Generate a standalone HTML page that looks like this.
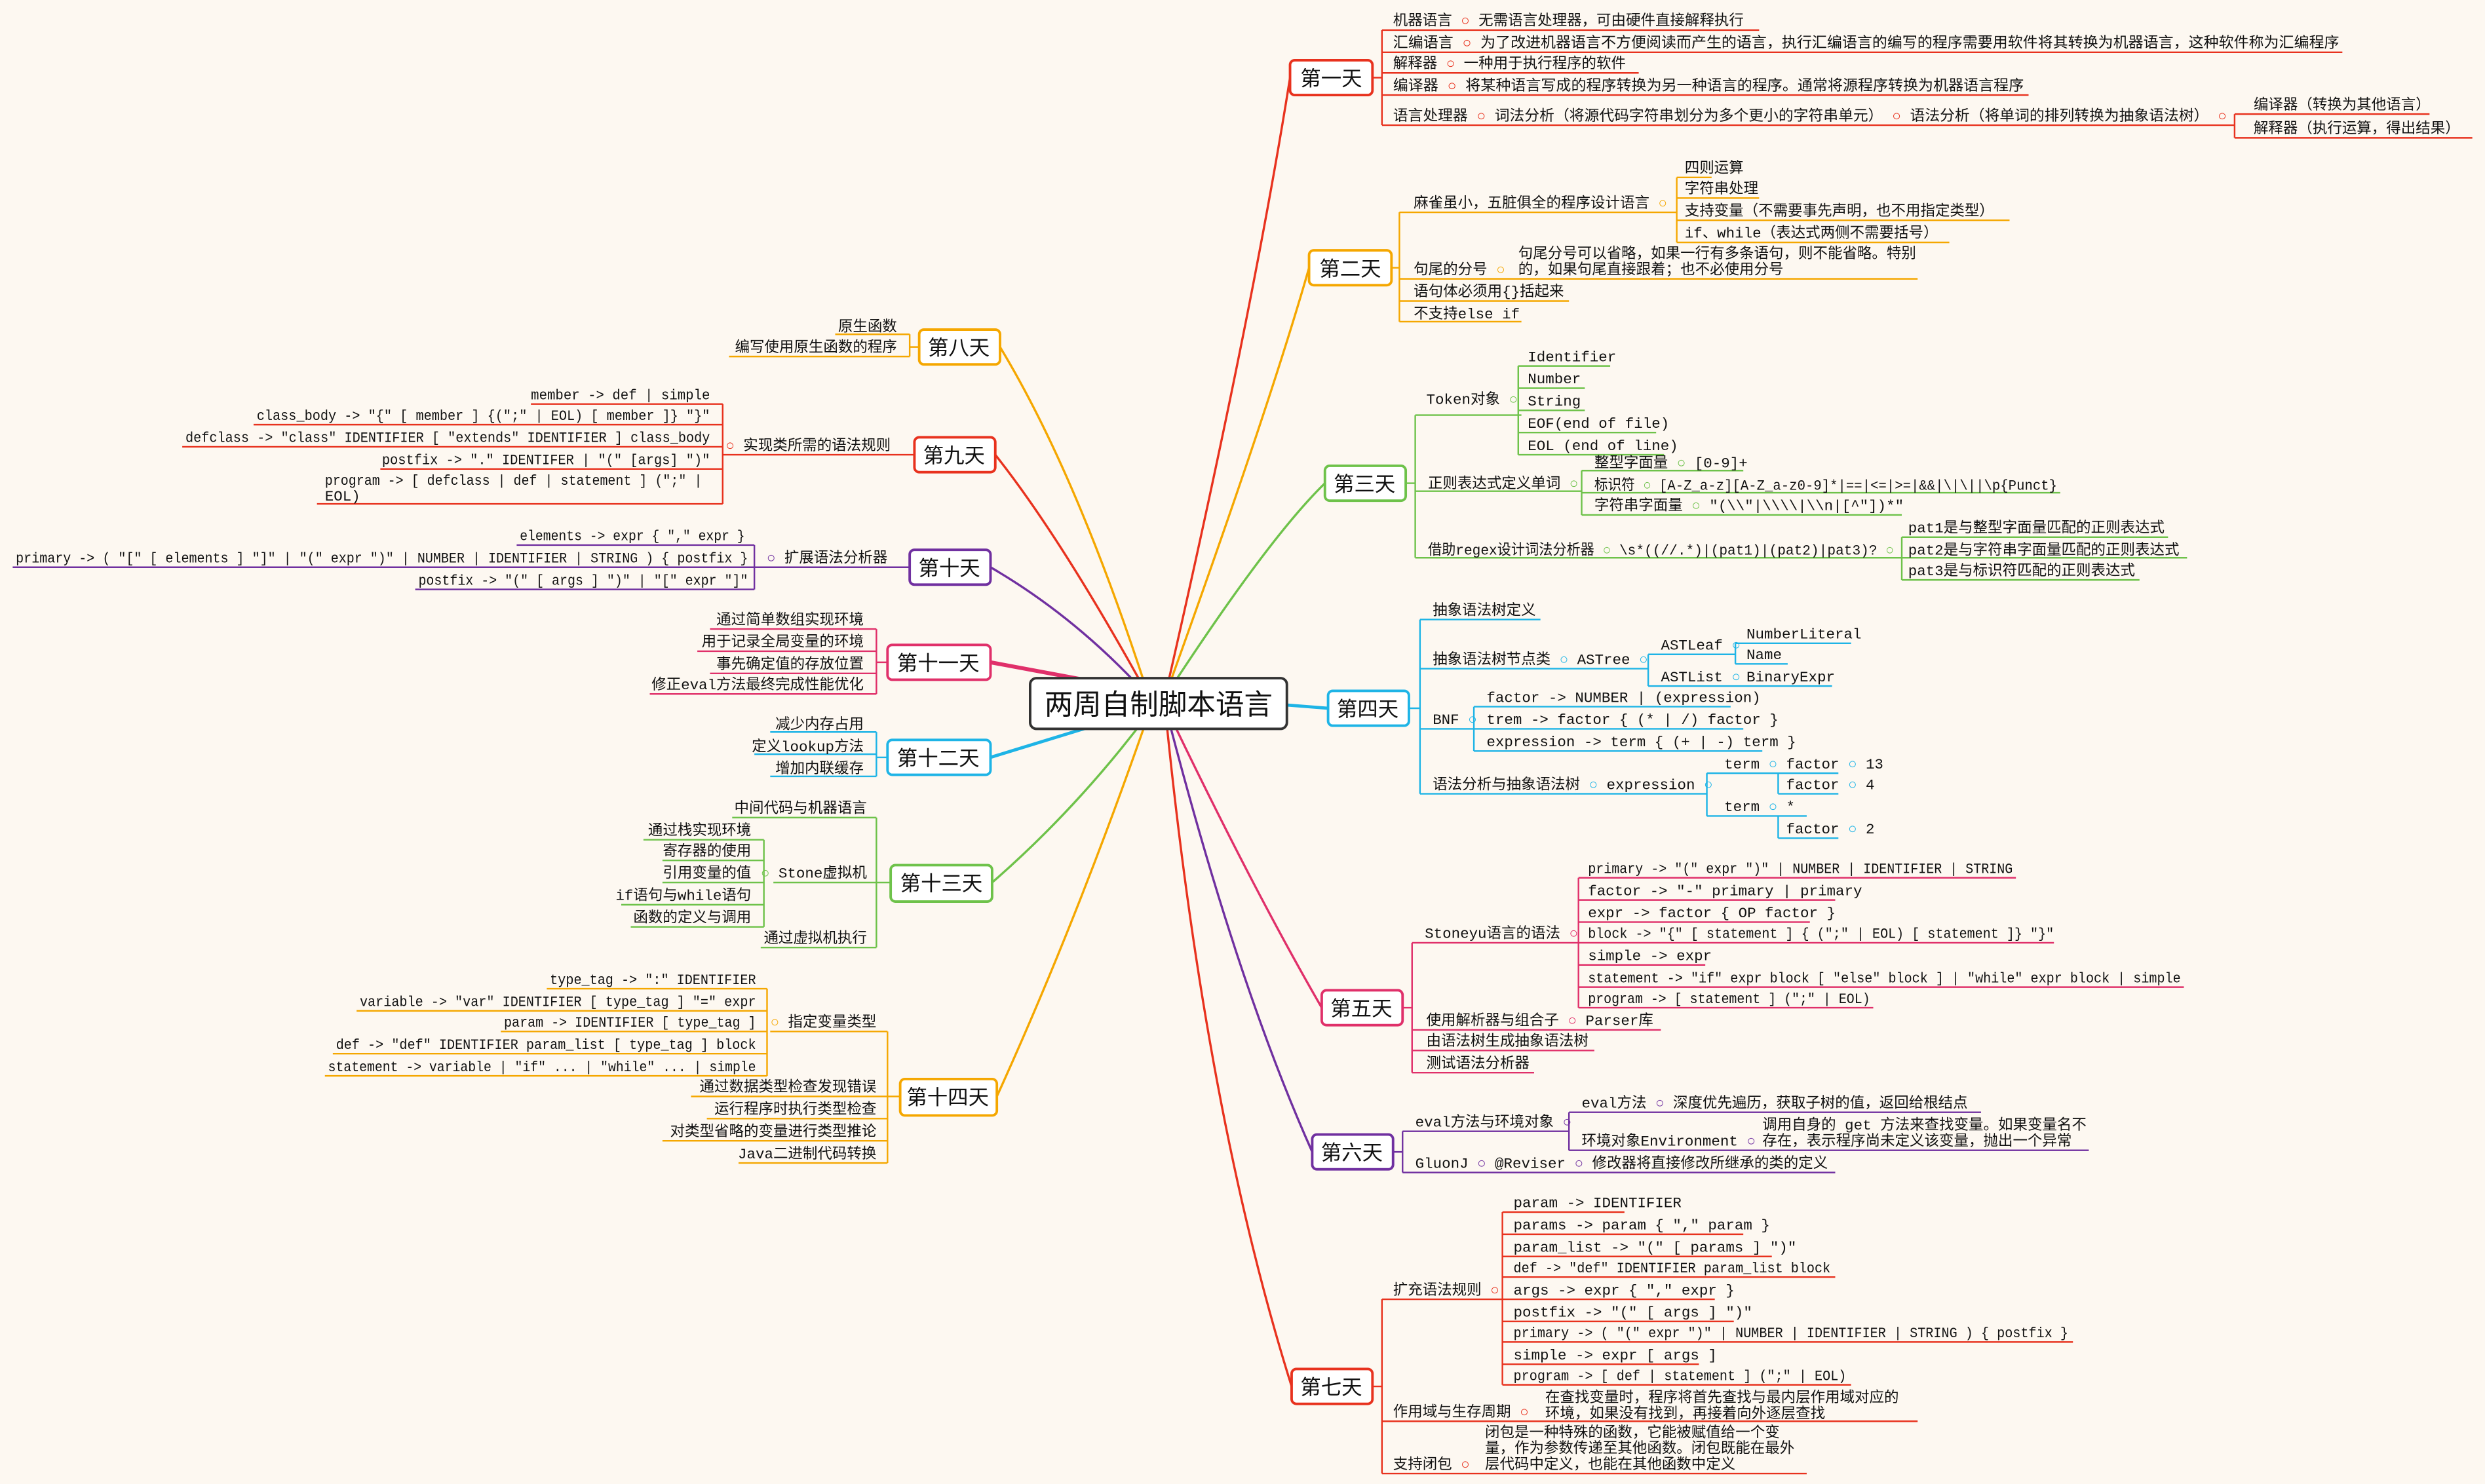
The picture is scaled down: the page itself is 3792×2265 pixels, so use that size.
<!DOCTYPE html>
<html><head><meta charset="utf-8"><style>
html,body{margin:0;padding:0;background:#fdf8f1;}
svg{display:block}
text{font-family:"Liberation Mono","Noto Sans CJK SC",monospace;font-size:9.3px;fill:#111;}
.tp{font-family:"Liberation Sans","Noto Sans CJK SC",sans-serif;font-size:13px;text-anchor:middle}
.e{text-anchor:end}
</style></head><body>
<svg width="3792" height="2265" viewBox="0 0 1568 936.6" preserveAspectRatio="none" xmlns="http://www.w3.org/2000/svg">
<rect width="1568" height="937" fill="#fdf8f1"/>
<g fill="none" stroke-width="1.4">
<!-- center connectors -->
<path d="M735 440 Q790 200 814 49" stroke="#e8321e"/>
<path d="M735 440 Q800 260 826 169" stroke="#f5a700"/>
<path d="M735 440 Q800 340 836 305" stroke="#6ec24a"/>
<path d="M800 444 L838 447" stroke="#1eb4e6" stroke-width="2"/>
<path d="M735 445 Q790 560 834 636" stroke="#e0306a"/>
<path d="M735 445 Q780 620 828 727" stroke="#7030a0"/>
<path d="M735 445 Q760 700 815 875" stroke="#e8321e"/>
<path d="M725 440 Q680 300 631 219" stroke="#f5a700"/>
<path d="M725 440 Q670 340 628 287" stroke="#e8321e"/>
<path d="M725 440 Q680 390 625 358" stroke="#7030a0"/>
<path d="M700 432 L625 418" stroke="#e0306a" stroke-width="2.5"/>
<path d="M700 455 L625 478" stroke="#1eb4e6" stroke-width="2"/>
<path d="M725 450 Q680 510 626 557" stroke="#6ec24a"/>
<path d="M725 450 Q680 580 629 692" stroke="#f5a700"/>
</g>
<g fill="none" stroke-width="1">
<!-- day1 red -->
<g stroke="#e8321e">
<path d="M866 49 H872 M872 19 V79"/>
<path d="M872 19 H1110 M872 33 H1478 M872 46 H1034 M872 60 H1280 M872 79 H1410 M1410 79 V72 M1410 72 V87 M1410 72 H1533 M1410 87 H1560"/>
</g>
<!-- day2 orange -->
<g stroke="#f5a700">
<path d="M878 169 H883 M883 134 V203"/>
<path d="M883 134 H1058 M1058 112 V153 M1058 112 H1080 M1058 125 H1110 M1058 139 H1268 M1058 153 H1230"/>
<path d="M883 176 H1210 M883 190 H990 M883 203 H960"/>
</g>
<!-- day3 green -->
<g stroke="#6ec24a">
<path d="M887 305 H893 M893 262 V352"/>
<path d="M893 262 H960 M958 231 V287 M958 231 H1016 M958 245 H1000 M958 259 H1000 M958 273 H1045 M958 287 H1050"/>
<path d="M893 310 H998 M998 297 V325 M998 297 H1100 M998 311 H1300 M998 325 H1200"/>
<path d="M893 352 H1200 M1200 339 V366 M1200 339 H1368 M1200 352 H1380 M1200 366 H1350"/>
</g>
<!-- day4 cyan -->
<g stroke="#1eb4e6">
<path d="M889 447 H896 M896 391 V501"/>
<path d="M896 391 H972 M896 422 H1040 M1040 413 V433 M1040 413 H1095 M1040 433 H1095 M1095 406 V419 M1095 406 H1168 M1095 419 H1128 M1095 433 H1156"/>
<path d="M896 460 H930 M930 446 V474 M930 446 H1092 M930 460 H1100 M930 474 H1112"/>
<path d="M896 501 H1077 M1077 488 V515 M1077 488 H1122 M1122 488 V501 M1122 488 H1160 M1122 501 H1160 M1077 515 H1122 M1122 515 V529 M1122 515 H1140 M1122 529 H1160"/>
</g>
<!-- day5 crimson -->
<g stroke="#e0306a">
<path d="M885 636 H891 M891 595 V677"/>
<path d="M891 595 H996 M996 554 V636 M996 554 H1272 M996 568 H1158 M996 582 H1142 M996 595 H1296 M996 609 H1076 M996 623 H1378 M996 636 H1182"/>
<path d="M891 650 H1048 M891 663 H1006 M891 677 H968"/>
</g>
<!-- day6 purple -->
<g stroke="#7030a0">
<path d="M879 727 H885 M885 714 V740"/>
<path d="M885 714 H990 M990 702 V726 M990 702 H1250 M990 726 H1318 M885 740 H1158"/>
</g>
<!-- day7 red -->
<g stroke="#e8321e">
<path d="M866 875 H872 M872 820 V930"/>
<path d="M872 820 H948 M948 765 V874 M948 765 H1025 M948 779 H1100 M948 793 H1118 M948 806 H1158 M948 820 H1082 M948 834 H1094 M948 847 H1308 M948 861 H1072 M948 874 H1168"/>
<path d="M872 897 H1210 M872 930 H1140"/>
</g>
<!-- left side -->
<g stroke="#f5a700"><path d="M580 219 H574 M574 211 V225 M574 211 H527 M574 225 H460"/></g>
<g stroke="#e8321e"><path d="M577 287 H462 M462 287 H456 M456 255 V318 M456 255 H335 M456 268 H160 M456 282 H115 M456 296 H240 M456 318 H200"/></g>
<g stroke="#7030a0"><path d="M574 358 H476 M476 344 V372 M476 344 H326 M476 358 H8 M476 372 H262"/></g>
<g stroke="#e0306a"><path d="M560 418 H553 M553 397 V438 M553 397 H448 M553 411 H440 M553 425 H448 M553 438 H410"/></g>
<g stroke="#1eb4e6"><path d="M560 478 H553 M553 462 V490 M553 462 H486 M553 476 H476 M553 490 H486"/></g>
<g stroke="#6ec24a"><path d="M562 557 H553 M553 516 V598 M553 516 H462 M553 557 H488 M482 530 V585 M482 530 H406 M482 543 H418 M482 557 H418 M482 571 H392 M482 585 H398 M553 598 H480"/></g>
<g stroke="#f5a700"><path d="M568 692 H560 M560 651 V734 M560 651 H486 M484 624 V679 M484 624 H345 M484 638 H225 M484 651 H316 M484 665 H210 M484 679 H205 M560 692 H436 M560 706 H446 M560 720 H418 M560 734 H466"/></g>
</g>
<!-- boxes -->
<g stroke-width="1.6">
<rect x="650" y="428" width="162" height="32" rx="4" fill="#fff" stroke="#333"/>
<rect x="814" y="38" width="52" height="22" rx="3" fill="#fff" stroke="#e8321e"/>
<rect x="826" y="158" width="52" height="22" rx="3" fill="#fff" stroke="#f5a700"/>
<rect x="836" y="294" width="51" height="22" rx="3" fill="#fff" stroke="#6ec24a"/>
<rect x="838" y="436" width="51" height="22" rx="3" fill="#fff" stroke="#1eb4e6"/>
<rect x="834" y="625" width="51" height="22" rx="3" fill="#fff" stroke="#e0306a"/>
<rect x="828" y="716" width="51" height="22" rx="3" fill="#fff" stroke="#7030a0"/>
<rect x="815" y="864" width="51" height="22" rx="3" fill="#fff" stroke="#e8321e"/>
<rect x="580" y="208" width="51" height="22" rx="3" fill="#fff" stroke="#f5a700"/>
<rect x="577" y="276" width="51" height="22" rx="3" fill="#fff" stroke="#e8321e"/>
<rect x="574" y="347" width="51" height="22" rx="3" fill="#fff" stroke="#7030a0"/>
<rect x="560" y="407" width="65" height="22" rx="3" fill="#fff" stroke="#e0306a"/>
<rect x="560" y="467" width="65" height="22" rx="3" fill="#fff" stroke="#1eb4e6"/>
<rect x="562" y="546" width="64" height="23" rx="3" fill="#fff" stroke="#6ec24a"/>
<rect x="568" y="681" width="61" height="23" rx="3" fill="#fff" stroke="#f5a700"/>
</g>
<text x="731" y="451" class="tp" style="font-size:18px">两周自制脚本语言</text>
<text x="840" y="54" class="tp">第一天</text>
<text x="852" y="174" class="tp">第二天</text>
<text x="861" y="310" class="tp">第三天</text>
<text x="863" y="452" class="tp">第四天</text>
<text x="859" y="641" class="tp">第五天</text>
<text x="853" y="732" class="tp">第六天</text>
<text x="840" y="880" class="tp">第七天</text>
<text x="605" y="224" class="tp">第八天</text>
<text x="602" y="292" class="tp">第九天</text>
<text x="599" y="363" class="tp">第十天</text>
<text x="592" y="423" class="tp">第十一天</text>
<text x="592" y="483" class="tp">第十二天</text>
<text x="594" y="562" class="tp">第十三天</text>
<text x="598" y="697" class="tp">第十四天</text>

<!-- day1 -->
<text x="879" y="16">机器语言 <tspan fill="#e8321e">○</tspan> 无需语言处理器，可由硬件直接解释执行</text>
<text x="879" y="30" textLength="597" lengthAdjust="spacingAndGlyphs">汇编语言 <tspan fill="#e8321e">○</tspan> 为了改进机器语言不方便阅读而产生的语言，执行汇编语言的编写的程序需要用软件将其转换为机器语言，这种软件称为汇编程序</text>
<text x="879" y="43">解释器 <tspan fill="#e8321e">○</tspan> 一种用于执行程序的软件</text>
<text x="879" y="57" textLength="398" lengthAdjust="spacingAndGlyphs">编译器 <tspan fill="#e8321e">○</tspan> 将某种语言写成的程序转换为另一种语言的程序。通常将源程序转换为机器语言程序</text>
<text x="879" y="76" textLength="526" lengthAdjust="spacingAndGlyphs">语言处理器 <tspan fill="#e8321e">○</tspan> 词法分析（将源代码字符串划分为多个更小的字符串单元） <tspan fill="#e8321e">○</tspan> 语法分析（将单词的排列转换为抽象语法树） <tspan fill="#e8321e">○</tspan></text>
<text x="1422" y="69">编译器（转换为其他语言）</text>
<text x="1422" y="84">解释器（执行运算，得出结果）</text>
<!-- day2 -->
<text x="892" y="131">麻雀虽小，五脏俱全的程序设计语言 <tspan fill="#f5a700">○</tspan></text>
<text x="1063" y="109">四则运算</text>
<text x="1063" y="122">字符串处理</text>
<text x="1063" y="136">支持变量（不需要事先声明，也不用指定类型）</text>
<text x="1063" y="150">if、while（表达式两侧不需要括号）</text>
<text x="892" y="173">句尾的分号 <tspan fill="#f5a700">○</tspan></text>
<text x="958" y="163">句尾分号可以省略，如果一行有多条语句，则不能省略。特别</text>
<text x="958" y="173">的，如果句尾直接跟着；也不必使用分号</text>
<text x="892" y="187">语句体必须用{}括起来</text>
<text x="892" y="201">不支持else if</text>
<!-- day3 -->
<text x="900" y="255">Token对象 <tspan fill="#6ec24a">○</tspan></text>
<text x="964" y="228">Identifier</text>
<text x="964" y="242">Number</text>
<text x="964" y="256">String</text>
<text x="964" y="270">EOF(end of file)</text>
<text x="964" y="284">EOL (end of line)</text>
<text x="901" y="308">正则表达式定义单词 <tspan fill="#6ec24a">○</tspan></text>
<text x="1006" y="295">整型字面量 <tspan fill="#6ec24a">○</tspan>  [0-9]+</text>
<text x="1006" y="309" textLength="292" lengthAdjust="spacingAndGlyphs">标识符 <tspan fill="#6ec24a">○</tspan>  [A-Z_a-z][A-Z_a-z0-9]*|==|&lt;=|&gt;=|&amp;&amp;|\|\||\p{Punct}</text>
<text x="1006" y="322">字符串字面量 <tspan fill="#6ec24a">○</tspan>  "(\\"|\\\\|\\n|[^"])*"</text>
<text x="901" y="350" textLength="294" lengthAdjust="spacingAndGlyphs">借助regex设计词法分析器 <tspan fill="#6ec24a">○</tspan>  \s*((//.*)|(pat1)|(pat2)|pat3)? <tspan fill="#6ec24a">○</tspan></text>
<text x="1204" y="336">pat1是与整型字面量匹配的正则表达式</text>
<text x="1204" y="350">pat2是与字符串字面量匹配的正则表达式</text>
<text x="1204" y="363">pat3是与标识符匹配的正则表达式</text>
<!-- day4 -->
<text x="904" y="388">抽象语法树定义</text>
<text x="904" y="419">抽象语法树节点类 <tspan fill="#1eb4e6">○</tspan>  ASTree <tspan fill="#1eb4e6">○</tspan></text>
<text x="1048" y="410">ASTLeaf <tspan fill="#1eb4e6">○</tspan></text>
<text x="1048" y="430">ASTList <tspan fill="#1eb4e6">○</tspan></text>
<text x="1102" y="403">NumberLiteral</text>
<text x="1102" y="416">Name</text>
<text x="1102" y="430">BinaryExpr</text>
<text x="904" y="457">BNF <tspan fill="#1eb4e6">○</tspan></text>
<text x="938" y="443">factor -&gt; NUMBER | (expression)</text>
<text x="938" y="457">trem -&gt; factor { (* | /) factor }</text>
<text x="938" y="471">expression -&gt; term { (+ | -) term }</text>
<text x="904" y="498">语法分析与抽象语法树 <tspan fill="#1eb4e6">○</tspan>  expression <tspan fill="#1eb4e6">○</tspan></text>
<text x="1088" y="485">term <tspan fill="#1eb4e6">○</tspan></text>
<text x="1088" y="512">term <tspan fill="#1eb4e6">○</tspan></text>
<text x="1127" y="485">factor <tspan fill="#1eb4e6">○</tspan>  13</text>
<text x="1127" y="498">factor <tspan fill="#1eb4e6">○</tspan>  4</text>
<text x="1127" y="512">*</text>
<text x="1127" y="526">factor <tspan fill="#1eb4e6">○</tspan>  2</text>
<!-- day5 -->
<text x="899" y="592">Stoneyu语言的语法 <tspan fill="#e0306a">○</tspan></text>
<text x="1002" y="551" textLength="268" lengthAdjust="spacingAndGlyphs">primary -&gt; "(" expr ")" | NUMBER | IDENTIFIER | STRING</text>
<text x="1002" y="565">factor -&gt; "-" primary | primary</text>
<text x="1002" y="579">expr -&gt; factor { OP factor }</text>
<text x="1002" y="592" textLength="294" lengthAdjust="spacingAndGlyphs">block -&gt; "{" [ statement ] { (";" | EOL) [ statement ]} "}"</text>
<text x="1002" y="606">simple -&gt; expr</text>
<text x="1002" y="620" textLength="374" lengthAdjust="spacingAndGlyphs">statement -&gt; "if" expr block [ "else" block ] | "while" expr block | simple</text>
<text x="1002" y="633" textLength="178" lengthAdjust="spacingAndGlyphs">program -&gt; [ statement ] (";" | EOL)</text>
<text x="900" y="647">使用解析器与组合子 <tspan fill="#e0306a">○</tspan>  Parser库</text>
<text x="900" y="660">由语法树生成抽象语法树</text>
<text x="900" y="674">测试语法分析器</text>
<!-- day6 -->
<text x="893" y="711">eval方法与环境对象 <tspan fill="#7030a0">○</tspan></text>
<text x="998" y="699">eval方法 <tspan fill="#7030a0">○</tspan>  深度优先遍历，获取子树的值，返回给根结点</text>
<text x="998" y="723">环境对象Environment <tspan fill="#7030a0">○</tspan></text>
<text x="1112" y="713">调用自身的 get 方法来查找变量。如果变量名不</text>
<text x="1112" y="723">存在，表示程序尚未定义该变量，抛出一个异常</text>
<text x="893" y="737">GluonJ <tspan fill="#7030a0">○</tspan>  @Reviser <tspan fill="#7030a0">○</tspan>  修改器将直接修改所继承的类的定义</text>
<!-- day7 -->
<text x="879" y="817">扩充语法规则 <tspan fill="#e8321e">○</tspan></text>
<text x="955" y="762">param -&gt; IDENTIFIER</text>
<text x="955" y="776">params -&gt; param { "," param }</text>
<text x="955" y="790">param_list -&gt; "(" [ params ] ")"</text>
<text x="955" y="803" textLength="200" lengthAdjust="spacingAndGlyphs">def -&gt; "def" IDENTIFIER param_list block</text>
<text x="955" y="817">args -&gt; expr { "," expr }</text>
<text x="955" y="831">postfix -&gt; "(" [ args ] ")"</text>
<text x="955" y="844" textLength="350" lengthAdjust="spacingAndGlyphs">primary -&gt; ( "(" expr ")" | NUMBER | IDENTIFIER | STRING ) { postfix }</text>
<text x="955" y="858">simple -&gt; expr [ args ]</text>
<text x="955" y="871" textLength="210" lengthAdjust="spacingAndGlyphs">program -&gt; [ def | statement ] (";" | EOL)</text>
<text x="879" y="894">作用域与生存周期 <tspan fill="#e8321e">○</tspan></text>
<text x="975" y="885">在查找变量时，程序将首先查找与最内层作用域对应的</text>
<text x="975" y="895">环境，如果没有找到，再接着向外逐层查找</text>
<text x="879" y="927">支持闭包 <tspan fill="#e8321e">○</tspan></text>
<text x="937" y="907">闭包是一种特殊的函数，它能被赋值给一个变</text>
<text x="937" y="917">量，作为参数传递至其他函数。闭包既能在最外</text>
<text x="937" y="927">层代码中定义，也能在其他函数中定义</text>
<!-- left -->
<text class="e" x="566" y="209">原生函数</text>
<text class="e" x="566" y="222">编写使用原生函数的程序</text>
<text class="e" x="562" y="284"><tspan fill="#e8321e">○</tspan> 实现类所需的语法规则</text>
<text class="e" x="448" y="252" textLength="113" lengthAdjust="spacingAndGlyphs">member -&gt; def | simple</text>
<text class="e" x="448" y="265" textLength="286" lengthAdjust="spacingAndGlyphs">class_body -&gt; "{" [ member ] {(";" | EOL) [ member ]} "}"</text>
<text class="e" x="448" y="279" textLength="331" lengthAdjust="spacingAndGlyphs">defclass -&gt; "class" IDENTIFIER [ "extends" IDENTIFIER ] class_body</text>
<text class="e" x="448" y="293" textLength="207" lengthAdjust="spacingAndGlyphs">postfix -&gt; "." IDENTIFER | "(" [args] ")"</text>
<text x="205" y="306" textLength="238" lengthAdjust="spacingAndGlyphs">program -&gt; [ defclass | def | statement ] (";" |</text>
<text x="205" y="316">EOL)</text>
<text class="e" x="560" y="355"><tspan fill="#7030a0">○</tspan> 扩展语法分析器</text>
<text class="e" x="470" y="341" textLength="142" lengthAdjust="spacingAndGlyphs">elements -&gt; expr { "," expr }</text>
<text class="e" x="472" y="355" textLength="462" lengthAdjust="spacingAndGlyphs">primary -&gt; ( "[" [ elements ] "]" | "(" expr ")" | NUMBER | IDENTIFIER | STRING ) { postfix }</text>
<text class="e" x="472" y="369" textLength="208" lengthAdjust="spacingAndGlyphs">postfix -&gt; "(" [ args ] ")" | "[" expr "]"</text>
<text class="e" x="545" y="394">通过简单数组实现环境</text>
<text class="e" x="545" y="408">用于记录全局变量的环境</text>
<text class="e" x="545" y="422">事先确定值的存放位置</text>
<text class="e" x="545" y="435">修正eval方法最终完成性能优化</text>
<text class="e" x="545" y="460">减少内存占用</text>
<text class="e" x="545" y="474">定义lookup方法</text>
<text class="e" x="545" y="488">增加内联缓存</text>
<text class="e" x="547" y="513">中间代码与机器语言</text>
<text class="e" x="547" y="554"><tspan fill="#6ec24a">○</tspan> Stone虚拟机</text>
<text class="e" x="474" y="527">通过栈实现环境</text>
<text class="e" x="474" y="540">寄存器的使用</text>
<text class="e" x="474" y="554">引用变量的值</text>
<text class="e" x="474" y="568">if语句与while语句</text>
<text class="e" x="474" y="582">函数的定义与调用</text>
<text class="e" x="547" y="595">通过虚拟机执行</text>
<text class="e" x="553" y="648"><tspan fill="#f5a700">○</tspan> 指定变量类型</text>
<text class="e" x="477" y="621" textLength="130" lengthAdjust="spacingAndGlyphs">type_tag -&gt; ":" IDENTIFIER</text>
<text class="e" x="477" y="635" textLength="250" lengthAdjust="spacingAndGlyphs">variable -&gt; "var" IDENTIFIER [ type_tag ] "=" expr</text>
<text class="e" x="477" y="648" textLength="159" lengthAdjust="spacingAndGlyphs">param -&gt; IDENTIFIER [ type_tag ]</text>
<text class="e" x="477" y="662" textLength="265" lengthAdjust="spacingAndGlyphs">def -&gt; "def" IDENTIFIER param_list [ type_tag ] block</text>
<text class="e" x="477" y="676" textLength="270" lengthAdjust="spacingAndGlyphs">statement -&gt; variable | "if" ... | "while" ... | simple</text>
<text class="e" x="553" y="689">通过数据类型检查发现错误</text>
<text class="e" x="553" y="703">运行程序时执行类型检查</text>
<text class="e" x="553" y="717">对类型省略的变量进行类型推论</text>
<text class="e" x="553" y="731">Java二进制代码转换</text>
</svg>
</body></html>
